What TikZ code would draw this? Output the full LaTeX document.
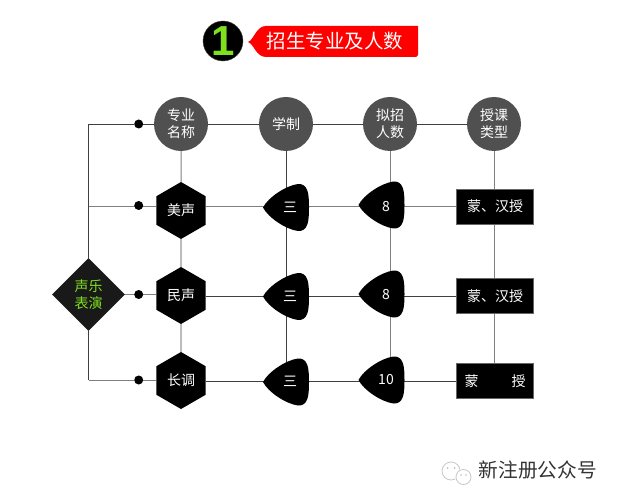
\documentclass[tikz,border=0pt]{standalone}
\usepackage{fontspec}
\setmainfont{Noto Sans CJK SC}
\newfontfamily\latinbold{Liberation Sans}
\usetikzlibrary{shapes.geometric, backgrounds, calc}
\definecolor{titlered}{RGB}{255, 0, 0}
\definecolor{limegreen}{RGB}{127, 224, 32}
\definecolor{headgray}{RGB}{80, 80, 80}
\definecolor{linegray}{RGB}{128, 128, 128}
\definecolor{darkline}{RGB}{64, 64, 64}

\newcommand{\pickshape}[2]{%
  \fill[black, shift={(#1,#2)}] (-23,0) .. controls (-18,-10) and (0,-22) .. (12,-23.5)
    .. controls (22,-24) and (23,-14) .. (23,0)
    .. controls (23,14) and (22,24) .. (12,23.5)
    .. controls (0,22) and (-18,10) .. (-23,0) -- cycle;}

\begin{document}
\begin{tikzpicture}[
    x=1pt, y=-1pt,
    toptag/.style={circle, fill=headgray, minimum size=54pt, inner sep=0pt, align=center, text=white, font=\fontsize{14}{17}\selectfont},
    hexbox/.style={regular polygon, regular polygon sides=6, shape border rotate=30, fill=black, minimum size=57pt, inner sep=0pt, text=white, font=\fontsize{14}{17}\selectfont},
    pickbox/.style={inner sep=1pt, text=white, font=\fontsize{14}{17}\selectfont},
    rectbox/.style={rectangle, fill=black, draw=black!60, line width=0.4pt, minimum width=77pt, minimum height=35pt, inner sep=0pt, text=white, font=\fontsize{14}{17}\selectfont},
    dotmark/.style={circle, fill=black, minimum size=9pt, inner sep=0pt},
    grayline/.style={draw=linegray, line width=1pt},
    darkwire/.style={draw=darkline, line width=0.9pt}
  ]
  \useasboundingbox (0,0) rectangle (617,502);

  % title
  \node[circle, fill=black, draw=black!70, minimum size=40pt, inner sep=0pt, text=limegreen, font=\fontsize{42}{42}\latinbold\bfseries] (num) at (223,41) {1};
  \fill[titlered] (248,42) .. controls (254,40) and (256,26) .. (266,26) -- (418,26) -- (418,55) -- (416,57)
    -- (266,57) .. controls (256,57) and (254,44) .. (248,42) -- cycle;
  \node[text=white, font=\fontsize{19.5}{24}\selectfont] (title) at (335,41.5) {招生专业及人数};

  % headers
  \node[toptag] (t1) at (181,124) {专业\\名称};
  \node[toptag] (t2) at (286,124) {学制};
  \node[toptag] (t3) at (390,124) {拟招\\人数};
  \node[toptag] (t4) at (494,124) {授课\\类型};

  % majors
  \node[hexbox] (h1) at (181,210.5) {美声};
  \node[hexbox] (h2) at (181,295.5) {民声};
  \node[hexbox] (h3) at (181,380.5) {长调};
  \node[diamond, fill=black!90, minimum width=73pt, minimum height=73pt, inner sep=0pt, align=center, text=limegreen, font=\fontsize{14}{17}\selectfont] (root) at (88.5,294.5) {声乐\\表演};

  \node[dotmark] (d0) at (138.7,124) {};
  \node[dotmark] (d1) at (138.7,205.5) {};
  \node[dotmark] (d2) at (138.7,294.5) {};
  \node[dotmark] (d3) at (138.7,380) {};

  % years and numbers
  \pickshape{286}{207.5}
  \pickshape{286}{296.5}
  \pickshape{286}{382}
  \pickshape{381.5}{205}
  \pickshape{381.5}{294}
  \pickshape{381.5}{380}
  \node[pickbox] (y1) at (290,207.5) {三};
  \node[pickbox] (y2) at (290,296.5) {三};
  \node[pickbox] (y3) at (290,381.5) {三};
  \node[pickbox] (n1) at (386,206.5) {8};
  \node[pickbox] (n2) at (386,295) {8};
  \node[pickbox] (n3) at (386,380) {10};

  % teaching language
  \node[rectbox] (r1) at (495,206.5) {蒙、汉授};
  \node[rectbox] (r2) at (495,296) {蒙、汉授};
  \node[rectbox] (r3) at (495,381) {蒙\hspace{33pt}授};

  % wechat mark
  \draw[black!22, line width=0.8pt] (451,471) circle (9pt);
  \fill[white] (463.5,477) circle (8.5pt);
  \draw[black!22, line width=0.8pt] (463.5,477) circle (7.5pt);
  \fill[black!25] (447.5,468) circle (1pt) (454.5,468) circle (1pt) (461,475) circle (0.9pt) (466,475) circle (0.9pt);
  \node[text=black!80, font=\fontsize{19.7}{24}\selectfont] (brand) at (537.7,470.5) {新注册公众号};

  \begin{scope}[on background layer]
    \draw[darkwire] (d0.west) -- (root.north |- d0) -- (root.north);
    \draw[grayline] (root.north |- r1) -- (h1.west |- r1);
    \draw[darkwire] (root.south) -- (root.south |- d3);
    \draw[grayline] (root.south |- d3) -- (d3.west);
    \draw[grayline] (d3) -- (h3.west |- d3);
    \draw[grayline] (root.east) -- (h2.west |- root);
    \draw[darkwire] (d0) -- (t1);
    \draw[darkwire] (t1) -- (t2);
    \draw[darkwire] (t2) -- (t3);
    \draw[darkwire] (t3) -- (t4);
    \draw[grayline] (t1) -- (h1);
    \draw[darkwire] (h1) -- (h2);
    \draw[darkwire] (h2) -- (h3);
    \draw[darkwire] (t2) -- (t2 |- y3);
    \draw[grayline] (t3) -- (t3 |- n3);
    \draw[grayline] (t4) -- (t4 |- r3.north);
    \draw[grayline] (h1.east |- r1) -- (r1);
    \draw[darkwire] (h2.east |- r2) -- (r2);
    \draw[darkwire] (h3.east |- r3) -- (r3);
  \end{scope}
\end{tikzpicture}
\end{document}
